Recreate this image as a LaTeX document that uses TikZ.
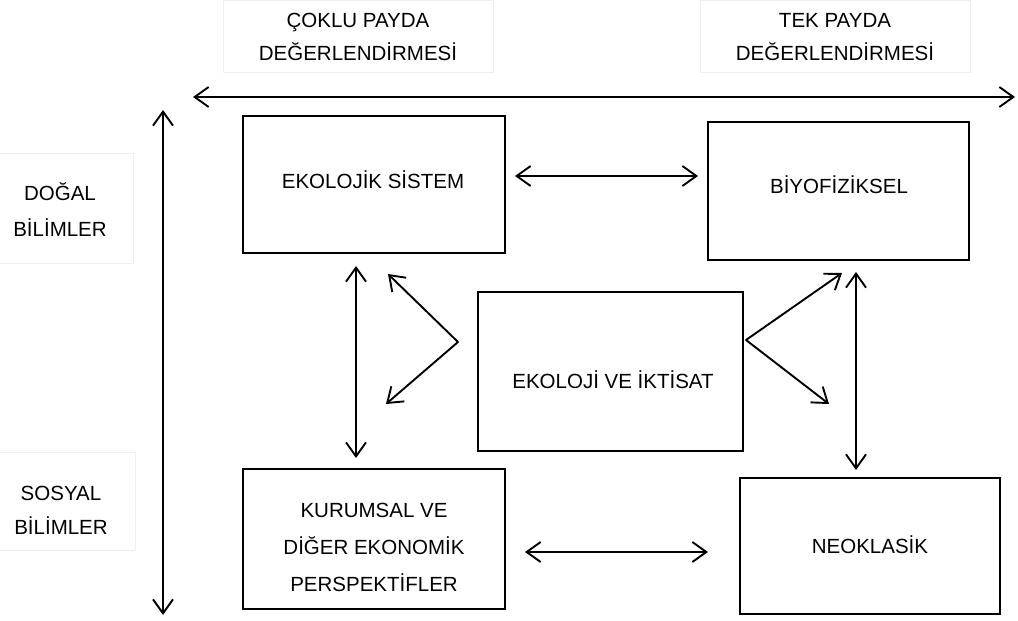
\documentclass[tikz,border=0pt]{standalone}
\usepackage{fontspec}
\setmainfont{Liberation Sans}
\usetikzlibrary{arrows.meta}
\begin{document}
\begin{tikzpicture}[x=1pt,y=-1pt,
  box/.style={draw=black, line width=1.8pt, inner sep=0pt},
  faint/.style={draw=black!6, line width=0.8pt},
  lbl/.style={font=\fontsize{20.5}{33}\selectfont, text=black, align=center, inner sep=0pt},
  arr/.style={line width=1.9pt, {Straight Barb[length=14pt,width=20pt,line width=1.9pt]}-{Straight Barb[length=14pt,width=20pt,line width=1.9pt]}},
  arrone/.style={line width=1.9pt, -{Straight Barb[length=14pt,width=20pt,line width=1.9pt]}}]
\useasboundingbox (0,0) rectangle (1018,621);
\fill[white] (0,0) rectangle (1018,621);
% faint label frames
\draw[faint] (223,0) rectangle (493,72);
\draw[faint] (700,0) rectangle (970,72);
\draw[faint] (-5,153) rectangle (133,263);
\draw[faint] (-5,452) rectangle (135,550);
% axis labels
\node[lbl] (cok) at (358,37) {ÇOKLU PAYDA\\DEĞERLENDİRMESİ};
\node[lbl] (tek) at (835,37) {TEK PAYDA\\DEĞERLENDİRMESİ};
\node[lbl, font=\fontsize{20.5}{36}\selectfont] (dog) at (60,210) {DOĞAL\\BİLİMLER};
\node[lbl, font=\fontsize{20.5}{34}\selectfont] (sos) at (61,510) {SOSYAL\\BİLİMLER};
% axes
\coordinate (hL) at (193,97);
\coordinate (hR) at (1015,97);
\coordinate (vT) at (163,110);
\coordinate (vB) at (163,615);
\draw[arr] (hL) -- (hR);
\draw[arr] (vT) -- (vB);
% boxes
\node[box, minimum width=262pt, minimum height=137pt] (ES) at (374,184.5) {};
\node[box, minimum width=261pt, minimum height=138pt] (BF) at (838.5,191) {};
\node[box, minimum width=265pt, minimum height=159pt] (EI) at (610.5,371.5) {};
\node[box, minimum width=262pt, minimum height=140pt] (KU) at (374,539) {};
\node[box, minimum width=260pt, minimum height=136pt] (NE) at (870,546) {};
% texts
\node[lbl] (ESt) at (373,180) {EKOLOJİK SİSTEM};
\node[lbl] (BFt) at (839,185) {BİYOFİZİKSEL};
\node[lbl] (EIt) at (613,380) {EKOLOJİ VE İKTİSAT};
\node[lbl, font=\fontsize{20.5}{37}\selectfont] (KUt) at (374,547) {KURUMSAL VE\\DİĞER EKONOMİK\\PERSPEKTİFLER};
\node[lbl] (NEt) at (870,545) {NEOKLASİK};
% connectors
\coordinate (a1) at (515,176);
\coordinate (a2) at (698,176);
\draw[arr] (a1) -- (a2);
\coordinate (b1) at (525,552);
\coordinate (b2) at (708,552);
\draw[arr] (b1) -- (b2);
\coordinate (c1) at (356,266);
\coordinate (c2) at (356,458);
\draw[arr] (c1) -- (c2);
\coordinate (d1) at (856,272);
\coordinate (d2) at (856,470);
\draw[arr] (d1) -- (d2);
% V arrows
\coordinate (lv) at (458,342);
\coordinate (lu) at (388,274);
\coordinate (ld) at (386,404);
\draw[arrone] (lv) -- (lu);
\draw[arrone] (lv) -- (ld);
\coordinate (rv) at (746,340);
\coordinate (ru) at (842,273);
\coordinate (rd) at (829,404);
\draw[arrone] (rv) -- (ru);
\draw[arrone] (rv) -- (rd);
\fill (lv) circle (0.95pt);
\fill (rv) circle (0.95pt);
\end{tikzpicture}
\end{document}
